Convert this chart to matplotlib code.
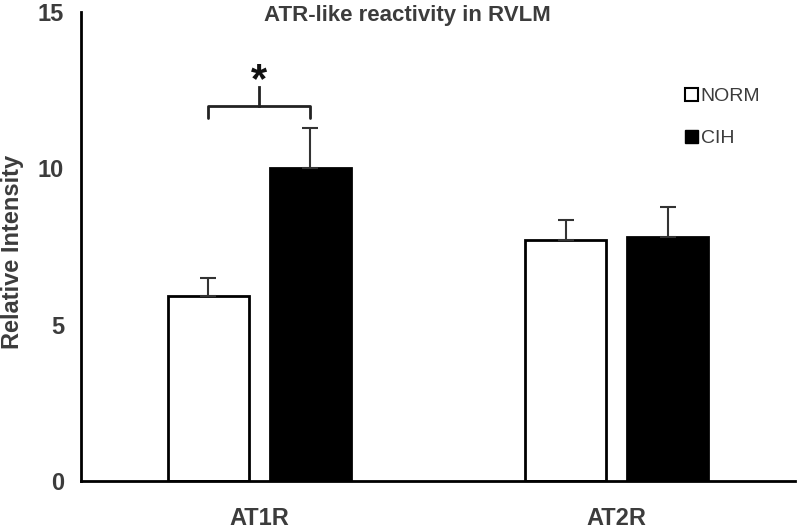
import matplotlib.pyplot as plt
from matplotlib.patches import Patch
import numpy as np

plt.rcParams['font.family'] = ['Liberation Sans', 'DejaVu Sans']

# data
receptors = ['AT1R', 'AT2R']
norm_vals = [5.9, 7.7]
norm_err = [0.6, 0.65]
cih_vals = [10.0, 7.8]
cih_err = [1.3, 0.95]
yticks = [0, 5, 10, 15]

txt = '#3c3c3c'

fig = plt.figure(figsize=(8, 5.3), dpi=100)
ax = fig.add_axes([0.101, 0.0925, 0.893, 0.885])

x = np.arange(len(receptors))
w = 0.227
off = 0.143

ax.bar(x - off, norm_vals, w, color='white', edgecolor='black', linewidth=2,
       yerr=[np.zeros(len(norm_err)), norm_err], capsize=6,
       error_kw=dict(ecolor='#333333', elinewidth=1.5, capthick=1.5), label='NORM')
ax.bar(x + off, cih_vals, w, color='black', edgecolor='black', linewidth=2,
       yerr=[np.zeros(len(cih_err)), cih_err], capsize=6,
       error_kw=dict(ecolor='#333333', elinewidth=1.5, capthick=1.5), label='CIH')

# significance bracket over AT1R
x1, x2 = x[0] - off, x[0] + off
xm = (x1 + x2) / 2
ax.plot([x1, x1, x2, x2], [11.6, 12.0, 12.0, 11.6], color='#222222', lw=2,
        solid_joinstyle='round', solid_capstyle='round')
ax.plot([xm, xm], [12.0, 12.6], color='#222222', lw=2)
ax.text(xm, 12.45, '*', ha='center', va='baseline', fontsize=30, fontweight='bold', color='#111111')

ax.set_xlim(-0.5, 1.5)
ax.set_ylim(0, 15)
ax.set_yticks(yticks)
ax.set_xticks(x)
ax.set_xticklabels(receptors)
ax.tick_params(length=0, labelsize=17, labelcolor=txt)
ax.tick_params(axis='x', pad=19)
ax.tick_params(axis='y', pad=12)
for lab in ax.get_xticklabels() + ax.get_yticklabels():
    lab.set_fontweight('bold')

ax.set_ylabel('Relative Intensity', fontsize=17, fontweight='bold', color=txt)
ax.yaxis.set_label_coords(-0.079, 0.489)
fig.text(264 / 800, 0.960, 'ATR-like reactivity in RVLM', ha='left', va='baseline',
         fontsize=16, fontweight='bold', color=txt)

for s in ['top', 'right']:
    ax.spines[s].set_visible(False)
for s in ['left', 'bottom']:
    ax.spines[s].set_linewidth(2)
    ax.spines[s].set_color('black')

handles = [Patch(facecolor='white', edgecolor='black', linewidth=1.5),
           Patch(facecolor='black', edgecolor='black')]
ax.legend(handles, ['NORM', 'CIH'], loc='upper left', bbox_to_anchor=(0.821, 0.875),
          frameon=False, handlelength=0.67, handleheight=0.67, handletextpad=0.15,
          labelspacing=1.25, fontsize=14, labelcolor=txt)

plt.savefig('out.png', dpi=100)
